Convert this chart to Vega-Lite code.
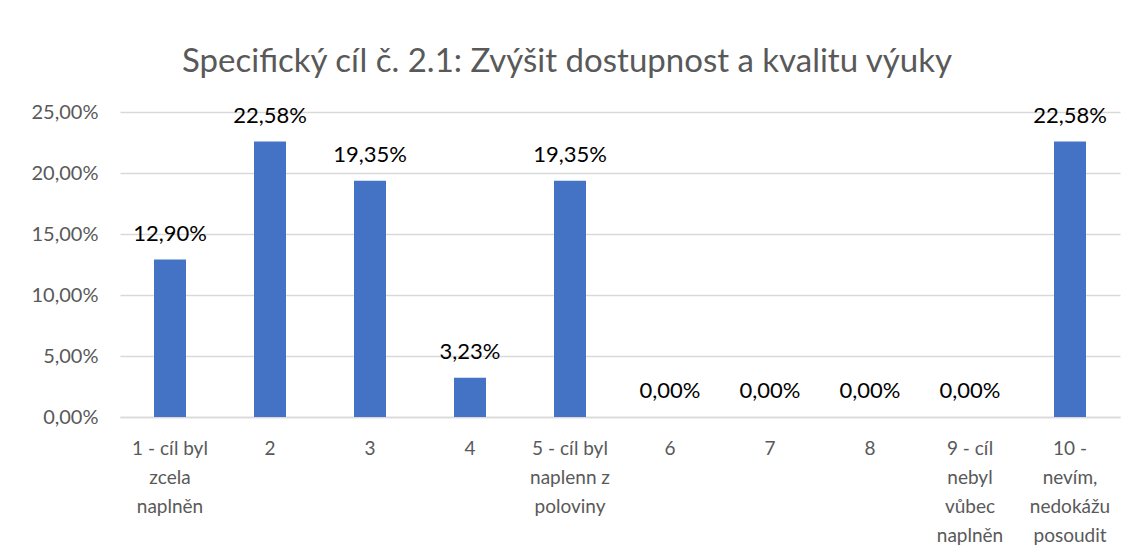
{
  "$schema": "https://vega.github.io/schema/vega-lite/v6.json",
  "width": 1000,
  "height": 305,
  "autosize": {"type": "none"},
  "padding": {"left": 120, "top": 112, "right": 15, "bottom": 142},
  "background": "white",
  "title": {
    "text": "Specifický cíl č. 2.1: Zvýšit dostupnost a kvalitu výuky",
    "font": "Lato",
    "fontSize": 33,
    "fontWeight": "normal",
    "color": "#595959",
    "anchor": "middle",
    "frame": "group",
    "dx": -53,
    "offset": 23
  },
  "data": {
    "values": [
      {"cat": "1 - cíl byl|zcela|naplněn", "value": 0.129032},
      {"cat": "2", "value": 0.225806},
      {"cat": "3", "value": 0.193548},
      {"cat": "4", "value": 0.032258},
      {"cat": "5 - cíl byl|naplenn z|poloviny", "value": 0.193548},
      {"cat": "6", "value": 0},
      {"cat": "7", "value": 0},
      {"cat": "8", "value": 0},
      {"cat": "9 - cíl|nebyl|vůbec|naplněn", "value": 0},
      {"cat": "10 -|nevím,|nedokážu|posoudit", "value": 0.225806}
    ]
  },
  "encoding": {
    "x": {
      "field": "cat",
      "type": "nominal",
      "sort": null,
      "scale": {"paddingInner": 0.68, "paddingOuter": 0.34},
      "axis": {
        "title": null,
        "labelAngle": 0,
        "labelExpr": "split(datum.label, '|')",
        "labelFont": "Lato",
        "labelFontSize": 19,
        "labelColor": "#595959",
        "labelLineHeight": 29,
        "labelBaseline": "top",
        "labelPadding": 22,
        "ticks": false,
        "domainColor": "#d9d9d9",
        "domainWidth": 1.5,
        "grid": false
      }
    },
    "y": {
      "field": "value",
      "type": "quantitative",
      "scale": {"domain": [0, 0.25], "nice": false},
      "axis": {
        "title": null,
        "format": ".2%",
        "values": [0, 0.05, 0.1, 0.15, 0.2, 0.25],
        "labelFont": "Lato",
        "labelFontSize": 20,
        "labelColor": "#595959",
        "labelPadding": 22,
        "ticks": false,
        "domain": false,
        "grid": true,
        "gridColor": "#d9d9d9",
        "gridWidth": 1.5
      }
    }
  },
  "layer": [
    {"mark": {"type": "bar", "color": "#4472C4"}},
    {
      "mark": {"type": "text", "font": "Lato", "fontSize": 22, "color": "#000000", "baseline": "middle", "dy": -26},
      "encoding": {"text": {"field": "value", "type": "quantitative", "format": ".2%"}}
    }
  ],
  "config": {
    "view": {"stroke": null},
    "locale": {
      "number": {"decimal": ",", "thousands": " ", "grouping": [3], "currency": ["", " Kč"]}
    }
  }
}
